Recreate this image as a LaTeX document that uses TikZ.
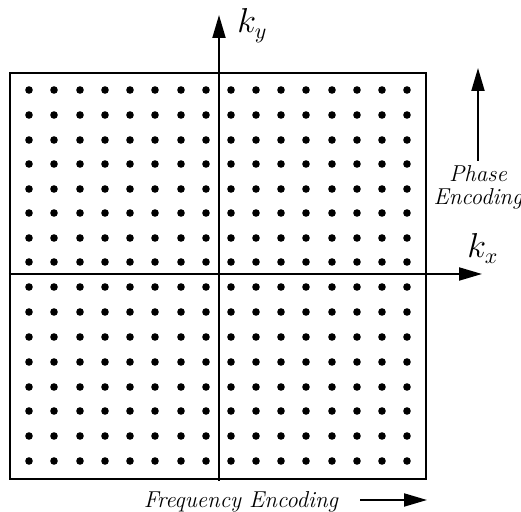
\documentclass[tikz,border=0pt]{standalone}
\usepackage{amsmath}
\usepackage{tikz}
\usetikzlibrary{arrows.meta,positioning}

\begin{document}
\begin{tikzpicture}[x=0.5pt,y=-0.5pt,>={Triangle[length=11.5pt,width=6.5pt]},font=\fontsize{11.5}{11.5}\selectfont\itshape]

\tikzset{
ax/.style={->,line width=1pt},
lbl/.style={inner sep=0pt,font=\fontsize{16}{18}\selectfont}
}

\useasboundingbox (0,0) rectangle (521,512);

% sampling grid
\node[draw,line width=1.1pt,minimum width=208pt,minimum height=203pt,inner sep=0pt] (kspace) at (218,276) {};
\foreach \x in {29,54,80,105,130,155,181,206,231,256,281,306,332,357,382,407}
  \foreach \y in {90,115,140,164,189,213,238,262,287,312,337,362,387,411,436,461}
    \fill (\x,\y) circle (1.9pt);

% axes
\coordinate (kxstart) at (kspace.west |- 0,274);
\coordinate (kxend) at (482,274);
\coordinate (kystart) at (219,481);
\coordinate (kyend) at (219,15);
\draw[ax] (kxstart) -- (kxend);
\draw[ax] (kystart) -- (kyend);

\node[lbl,anchor=base west] (kylab) at (237,33) {$k_y$};
\node[lbl,anchor=base west] (kxlab) at (467,258) {$k_x$};

% encoding directions
\node[align=center,inner sep=2pt] (phase) at (478,187) {Phase\\Encoding};
\coordinate (phaseend) at (478,68);
\draw[ax] (phase.north) -- (phaseend);

\node[anchor=base] (freq) at (241,508) {Frequency Encoding};
\coordinate (freqstart) at (360,500);
\coordinate (freqend) at (427,500);
\draw[ax] (freqstart) -- (freqend);

\end{tikzpicture}
\end{document}
